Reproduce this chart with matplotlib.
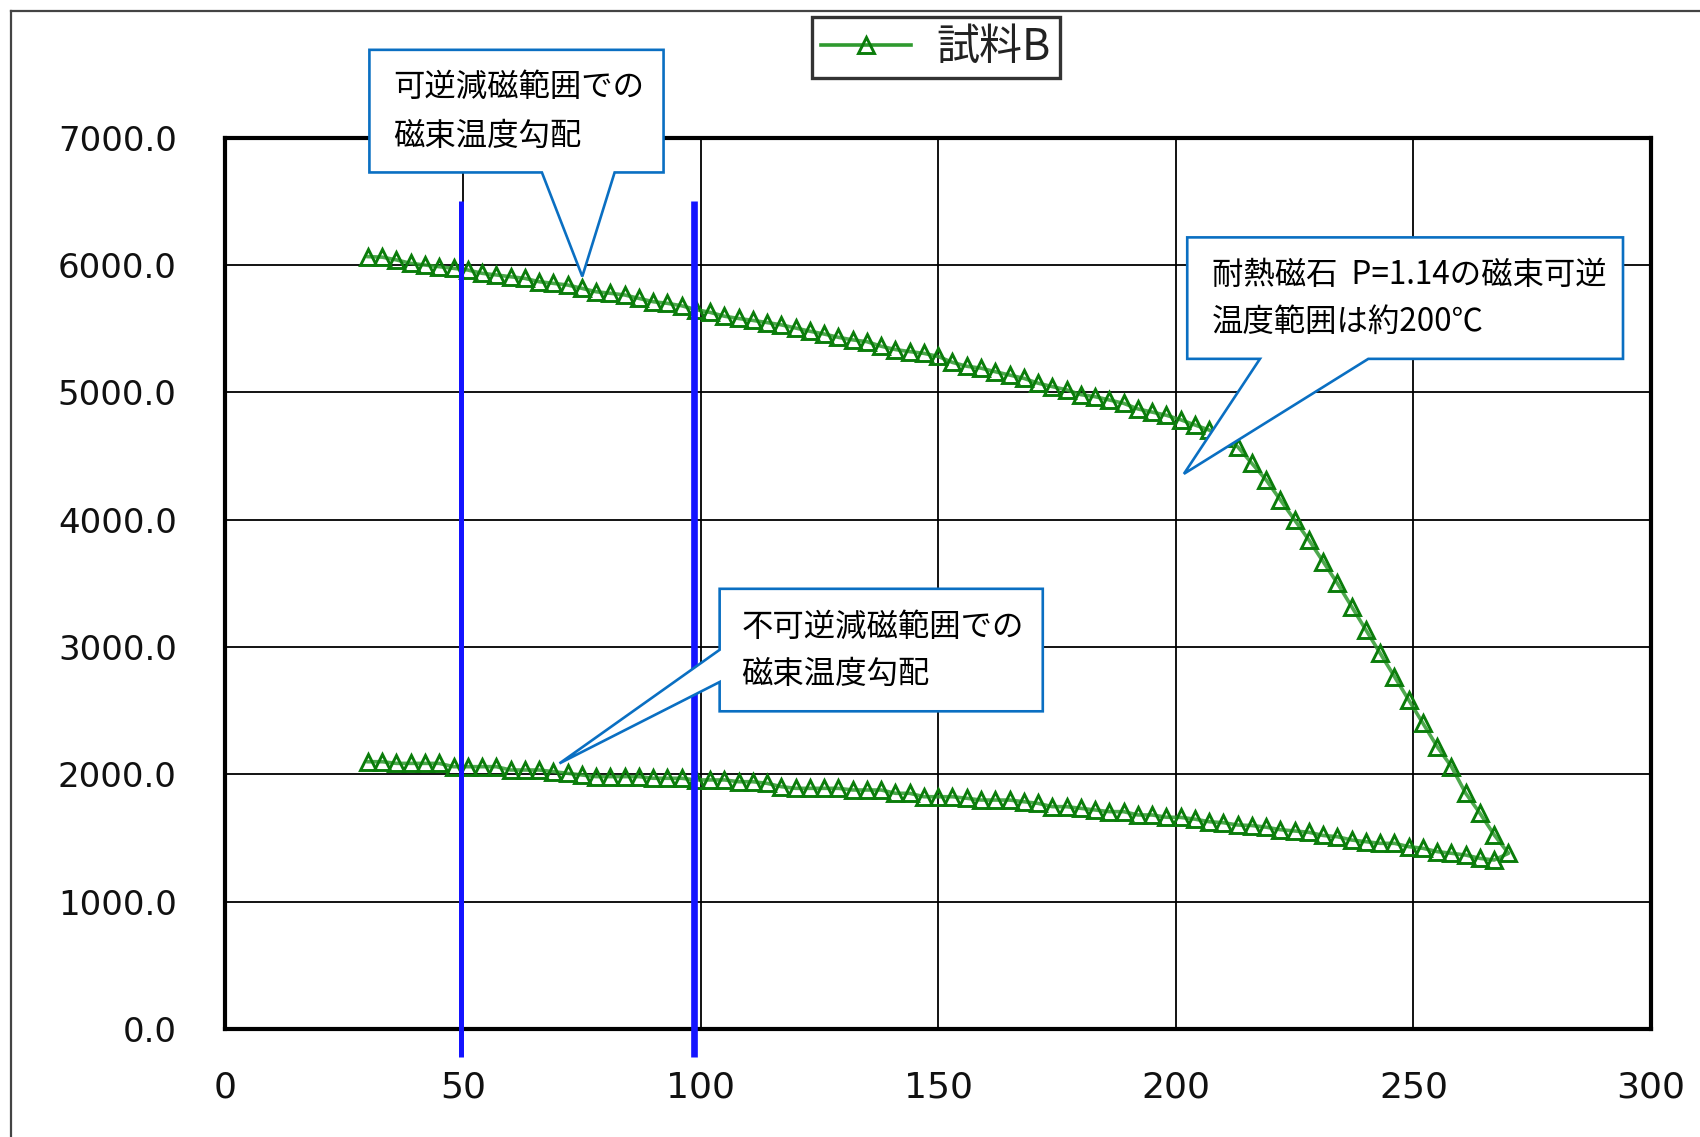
import matplotlib
matplotlib.use("Agg")
import matplotlib.pyplot as plt
from matplotlib.patches import Polygon
from matplotlib.lines import Line2D

plt.rcParams['font.family'] = ['Noto Sans CJK JP', 'DejaVu Sans']

# ---------------- data ----------------
temp_heating = [30, 33, 36, 39, 42, 45, 48, 51, 54, 57, 60, 63, 66, 69, 72, 75, 78, 81, 84, 87,
                90, 93, 96, 99, 102, 105, 108, 111, 114, 117, 120, 123, 126, 129, 132, 135, 138,
                141, 144, 147, 150, 153, 156, 159, 162, 165, 168, 171, 174, 177, 180, 183, 186,
                189, 192, 195, 198, 201, 204, 207, 210, 213, 216, 219, 222, 225, 228, 231, 234,
                237, 240, 243, 246, 249, 252, 255, 258, 261, 264, 267, 270]
flux_heating = [6066, 6062, 6040, 6013, 6000, 5987, 5974, 5961, 5935, 5922, 5908, 5895, 5869,
                5856, 5843, 5817, 5790, 5778, 5765, 5738, 5712, 5699, 5680, 5650, 5628, 5598,
                5580, 5565, 5548, 5530, 5505, 5480, 5458, 5432, 5412, 5398, 5362, 5336, 5320,
                5306, 5282, 5235, 5205, 5190, 5162, 5136, 5110, 5072, 5045, 5020, 4982, 4966,
                4940, 4914, 4870, 4845, 4820, 4785, 4744, 4704, 4639, 4573, 4443, 4312, 4155,
                3998, 3840, 3670, 3500, 3317, 3134, 2950, 2767, 2584, 2401, 2217, 2060, 1851,
                1694, 1524, 1380]
temp_cooling = [267, 264, 261, 258, 255, 252, 249, 246, 243, 240, 237, 234, 231, 228, 225, 222,
                219, 216, 213, 210, 207, 204, 201, 198, 195, 192, 189, 186, 183, 180, 177, 174,
                171, 168, 165, 162, 159, 156, 153, 150, 147, 144, 141, 138, 135, 132, 129, 126,
                123, 120, 117, 114, 111, 108, 105, 102, 99, 96, 93, 90, 87, 84, 81, 78, 75, 72,
                69, 66, 63, 60, 57, 54, 51, 48, 45, 42, 39, 36, 33, 30]
flux_cooling = [1327, 1340, 1366, 1380, 1393, 1419, 1432, 1458, 1458, 1471, 1484, 1510, 1520,
                1545, 1555, 1565, 1585, 1598, 1602, 1620, 1628, 1648, 1662, 1663, 1681, 1681,
                1707, 1707, 1720, 1733, 1746, 1746, 1772, 1785, 1798, 1798, 1798, 1812, 1824,
                1824, 1824, 1851, 1851, 1877, 1877, 1877, 1890, 1890, 1890, 1890, 1903, 1929,
                1942, 1942, 1956, 1956, 1956, 1969, 1969, 1969, 1982, 1982, 1982, 1982, 1995,
                2008, 2021, 2034, 2034, 2034, 2060, 2060, 2060, 2060, 2086, 2086, 2086, 2086,
                2099, 2099]

series_name = "試料B"
x_ticks = [0, 50, 100, 150, 200, 250, 300]
x_tick_labels = ["0", "50", "100", "150", "200", "250", "300"]
y_ticks = [0, 1000, 2000, 3000, 4000, 5000, 6000, 7000]
y_tick_labels = ["0.0", "1000.0", "2000.0", "3000.0", "4000.0", "5000.0", "6000.0", "7000.0"]
marker_lines_x = [49.5, 98.6]

callout1_lines = ["可逆減磁範囲での", "磁束温度勾配"]
callout2_lines = ["耐熱磁石  P=1.14の磁束可逆", "温度範囲は約200℃"]
callout3_lines = ["不可逆減磁範囲での", "磁束温度勾配"]

# ---------------- figure ----------------
fig = plt.figure(figsize=(17, 11.37), dpi=100)
fig.patch.set_facecolor("white")
ax = fig.add_axes([0.1326, 0.095, 0.8386, 0.7839])

temps = temp_heating + temp_cooling
flux = flux_heating + flux_cooling
ax.plot(temps, flux, color="#2f9a2f", lw=2.6, alpha=0.85, zorder=3)
ax.plot(temps, flux, linestyle="none", marker="^", ms=11, mfc="none",
        mec="#0b7d0b", mew=2.1, zorder=4)

ax.set_xlim(0, 300)
ax.set_ylim(0, 7000)
ax.set_xticks(x_ticks)
ax.set_xticklabels(x_tick_labels, family="DejaVu Sans", fontsize=26, color="#111111")
ax.set_yticks(y_ticks)
ax.set_yticklabels(y_tick_labels, family="DejaVu Sans", fontsize=24.5, color="#111111")
ax.tick_params(axis="x", length=0, pad=30)
ax.tick_params(axis="y", length=0, pad=35)
ax.grid(True, color="black", lw=1.3)
ax.set_axisbelow(True)
for sp in ax.spines.values():
    sp.set_linewidth(3)
    sp.set_color("black")

# vertical blue lines
for xv, lw in zip(marker_lines_x, [3.6, 4.8]):
    ax.plot([xv, xv], [-221, 6506], color="#1414ff", lw=lw, clip_on=False, zorder=5,
            solid_capstyle="butt")

# callouts
def callout(x0, x1, ytop, ybot, verts_tail, side="bottom"):
    if side == "bottom":
        (tl, tr), tip = verts_tail
        pts = [(x0, ytop), (x1, ytop), (x1, ybot), (tr, ybot), tip, (tl, ybot), (x0, ybot)]
    else:  # left side tail
        (tu, td), tip = verts_tail
        pts = [(x0, ytop), (x1, ytop), (x1, ybot), (x0, ybot), (x0, td), tip, (x0, tu)]
    poly = Polygon(pts, closed=True, facecolor="white", edgecolor="#0a6fc2", lw=1.9,
                   clip_on=False, zorder=6, joinstyle="miter")
    ax.add_patch(poly)

callout(30.3, 92.2, 7690, 6727, ((66.6, 81.9), (75.1, 5910)))
callout(202.4, 294.1, 6217, 5263, ((217.7, 240.5), (201.7, 4360)))
callout(104.0, 172.0, 3457, 2495, ((2978, 2725), (70.3, 2086)), side="left")

tkw = dict(fontsize=22.6, color="black", ha="left", va="center", zorder=7,
           family=["Noto Sans CJK JP", "DejaVu Sans"])
ax.text(35.4, 7400, callout1_lines[0], **tkw)
ax.text(35.4, 7017, callout1_lines[1], **tkw)
ax.text(207.6, 5918, callout2_lines[0], **tkw)
ax.text(207.6, 5552, callout2_lines[1], **tkw)
ax.text(108.6, 3159, callout3_lines[0], **tkw)
ax.text(108.6, 2785, callout3_lines[1], **tkw)

# legend
handle = Line2D([], [], color="#2f9a2f", lw=2.6, marker="^", ms=11, mfc="none",
                mec="#0b7d0b", mew=2.1)
leg = fig.legend([handle], [series_name], loc="center", bbox_to_anchor=(0.5505, 0.958),
                 frameon=True, fancybox=False, fontsize=31, borderpad=0.2,
                 handlelength=2.1, handletextpad=0.6, borderaxespad=0)
leg.get_frame().set_edgecolor("black")
leg.get_frame().set_linewidth(2.4)
for t in leg.get_texts():
    t.set_color("#222222")

# outer border lines (top and left)
fig.add_artist(Line2D([0.0064, 1.0], [1 - 0.0095, 1 - 0.0095], transform=fig.transFigure,
                      color="#444444", lw=1.6))
fig.add_artist(Line2D([0.0064, 0.0064], [0.0, 1 - 0.0095], transform=fig.transFigure,
                      color="#444444", lw=1.6))

fig.savefig("out.png", dpi=100, facecolor="white")
